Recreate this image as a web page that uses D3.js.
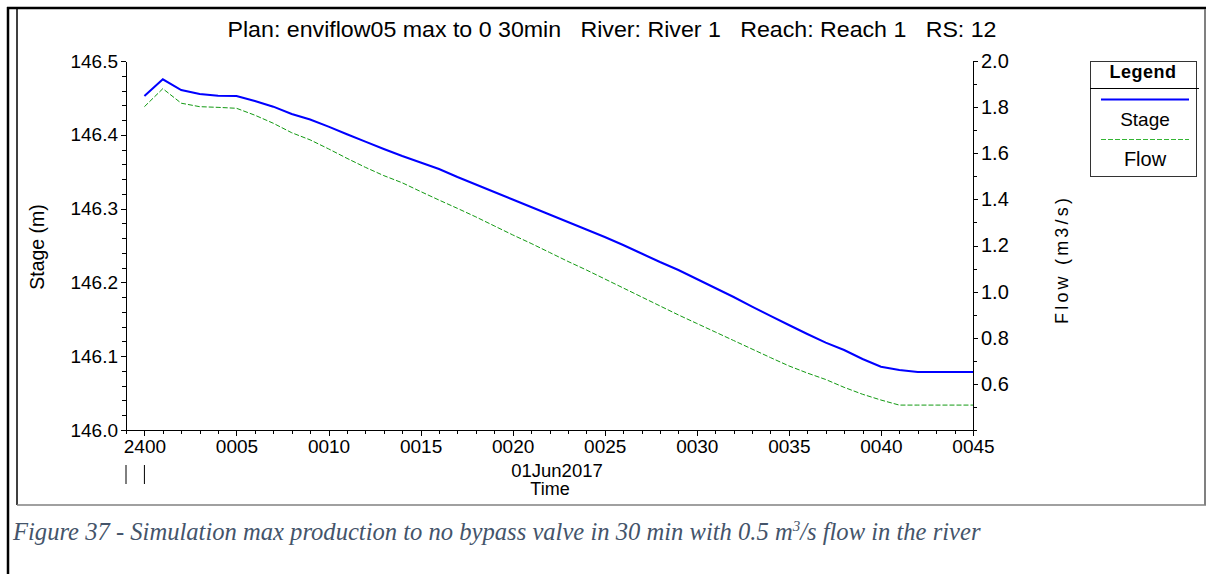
<!DOCTYPE html>
<html>
<head>
<meta charset="utf-8">
<script src="https://cdn.jsdelivr.net/npm/d3@7"></script>
<style>
  body { margin: 0; background: #fff; }
  svg { display: block; font-family: "Liberation Sans", Arial, sans-serif; }
  .axis path, .axis line { stroke: #000; shape-rendering: crispEdges; }
  .axis text { fill: #000; font-size: 19px; }
  .axis.right text { font-size: 20px; }
</style>
</head>
<body>
<div id="chart"></div>
<script>
// time in minutes after 2400 on 01Jun2017
const minutes = [0, 1, 2, 3, 4, 5, 6, 7, 8, 9, 10, 11, 12, 13, 14, 15, 16, 17, 18, 19, 20, 21, 22,
  23, 24, 25, 26, 27, 28, 29, 30, 31, 32, 33, 34, 35, 36, 37, 38, 39, 40, 41, 42, 43, 44, 45];

// Stage (m)
const stage = [146.4526, 146.4752, 146.4607, 146.4553, 146.4530, 146.4526, 146.4458, 146.4381,
  146.4282, 146.4207, 146.4110, 146.4007, 146.3907, 146.3808, 146.3713, 146.3625, 146.3537,
  146.3428, 146.3327, 146.3225, 146.3123, 146.3022, 146.2920, 146.2818, 146.2717, 146.2615,
  146.2507, 146.2392, 146.2276, 146.2168, 146.2046, 146.1924, 146.1802, 146.1673, 146.1545,
  146.1423, 146.1301, 146.1183, 146.1084, 146.0962, 146.0858, 146.0813, 146.0786, 146.0786,
  146.0786, 146.0786];

// Flow (m3/s)
const flow = [1.802, 1.880, 1.817, 1.802, 1.799, 1.795, 1.765, 1.730, 1.689, 1.658, 1.619, 1.578,
  1.539, 1.503, 1.472, 1.434, 1.397, 1.361, 1.324, 1.285, 1.246, 1.209, 1.170, 1.131, 1.094,
  1.055, 1.016, 0.977, 0.938, 0.899, 0.862, 0.825, 0.788, 0.751, 0.714, 0.678, 0.647, 0.619,
  0.585, 0.555, 0.530, 0.508, 0.508, 0.508, 0.508, 0.508];

const xTickMinutes = [0, 5, 10, 15, 20, 25, 30, 35, 40, 45];
const xTickLabels = ["2400", "0005", "0010", "0015", "0020", "0025", "0030", "0035", "0040", "0045"];
const stageTicks = [146.0, 146.1, 146.2, 146.3, 146.4, 146.5];
const flowTicks = [0.6, 0.8, 1.0, 1.2, 1.4, 1.6, 1.8, 2.0];

const title = "Plan: enviflow05 max to 0 30min   River: River 1   Reach: Reach 1   RS: 12";

const width = 1212, height = 574;
const plot = { left: 126, right: 973, top: 61, bottom: 430 };

const svg = d3.select('#chart').append('svg')
  .attr('width', width).attr('height', height);

// page / frame lines
svg.append('line').attr('x1', 7).attr('y1', 8).attr('x2', 1206).attr('y2', 8)
  .attr('stroke', '#000').attr('stroke-width', 2.5);
svg.append('line').attr('x1', 8).attr('y1', 7).attr('x2', 8).attr('y2', height)
  .attr('stroke', '#000').attr('stroke-width', 2.5);
svg.append('line').attr('x1', 17).attr('y1', 9).attr('x2', 17).attr('y2', 505)
  .attr('stroke', '#000').attr('stroke-width', 1.5);
svg.append('line').attr('x1', 17).attr('y1', 505).attr('x2', 1206).attr('y2', 505)
  .attr('stroke', '#808080').attr('stroke-width', 1.5);
svg.append('line').attr('x1', 1205).attr('y1', 9).attr('x2', 1205).attr('y2', 505)
  .attr('stroke', '#808080').attr('stroke-width', 2);

// scales
const x = d3.scaleLinear().domain([-1, 45]).range([plot.left, plot.right]);
const yStage = d3.scaleLinear().domain([146.0, 146.5]).range([plot.bottom, plot.top]);
const yFlow = d3.scaleLinear().domain([0.4, 2.0]).range([plot.bottom, plot.top]);

// minor ticks
const stageMinor = d3.range(0, 26).map(i => 146 + i * 0.02);
const flowMinor = d3.range(4, 21).map(i => i / 10);
const xMinor = d3.range(-1, 46);

svg.append('g').attr('class', 'axis')
  .attr('transform', `translate(${plot.left},0)`)
  .call(d3.axisLeft(yStage).tickValues(stageMinor).tickFormat('').tickSize(4).tickSizeOuter(0));
svg.append('g').attr('class', 'axis')
  .attr('transform', `translate(${plot.left},0)`)
  .call(d3.axisLeft(yStage).tickValues(stageTicks).tickFormat(d3.format('.1f')).tickSize(5).tickSizeOuter(0).tickPadding(3))
  .call(g => g.select('.domain').remove());

svg.append('g').attr('class', 'axis right')
  .attr('transform', `translate(${plot.right},0)`)
  .call(d3.axisRight(yFlow).tickValues(flowMinor).tickFormat('').tickSize(4).tickSizeOuter(0));
svg.append('g').attr('class', 'axis right')
  .attr('transform', `translate(${plot.right},0)`)
  .call(d3.axisRight(yFlow).tickValues(flowTicks).tickFormat(d3.format('.1f')).tickSize(5).tickSizeOuter(0).tickPadding(3))
  .call(g => g.select('.domain').remove());

svg.append('g').attr('class', 'axis')
  .attr('transform', `translate(0,${plot.bottom})`)
  .call(d3.axisBottom(x).tickValues(xMinor).tickFormat('').tickSize(4).tickSizeOuter(0));
svg.append('g').attr('class', 'axis')
  .attr('transform', `translate(0,${plot.bottom})`)
  .call(d3.axisBottom(x).tickValues(xTickMinutes).tickFormat((d, i) => xTickLabels[i]).tickSize(6).tickSizeOuter(0).tickPadding(4))
  .call(g => g.select('.domain').remove());

// date separator marks under the x axis
svg.selectAll('.datesep').data([-1, 0]).enter().append('line')
  .attr('x1', d => x(d)).attr('x2', d => x(d))
  .attr('y1', 465).attr('y2', 484)
  .attr('stroke', '#000').attr('stroke-width', 1);

// axis titles
svg.append('text').attr('x', 557).attr('y', 477).attr('text-anchor', 'middle')
  .style('font-size', '18.5px').text('01Jun2017');
svg.append('text').attr('x', 550).attr('y', 495).attr('text-anchor', 'middle')
  .style('font-size', '18px').text('Time');
svg.append('text').attr('transform', 'translate(44,247) rotate(-90)').attr('text-anchor', 'middle')
  .style('font-size', '19.5px').text('Stage (m)');
svg.append('text').attr('transform', 'translate(1068,261) rotate(-90)').attr('text-anchor', 'middle')
  .style('font-size', '18px').attr('textLength', 126).attr('lengthAdjust', 'spacing').text('Flow (m3/s)');

// title
svg.append('text').attr('x', 612).attr('y', 37).attr('text-anchor', 'middle')
  .style('font-size', '22px').style('white-space', 'pre')
  .attr('textLength', 769).attr('lengthAdjust', 'spacingAndGlyphs').text(title);

// lines
const stageLine = d3.line().x((d, i) => x(minutes[i])).y(d => yStage(d));
const flowLine = d3.line().x((d, i) => x(minutes[i])).y(d => yFlow(d));

svg.append('path').datum(flow)
  .attr('d', flowLine).attr('fill', 'none')
  .attr('stroke', '#129a12').attr('stroke-width', 1).attr('stroke-dasharray', '5,2');
svg.append('path').datum(stage)
  .attr('d', stageLine).attr('fill', 'none')
  .attr('stroke', '#0000ff').attr('stroke-width', 2);

// legend
const lg = svg.append('g');
lg.append('rect').attr('x', 1090.5).attr('y', 61.5).attr('width', 106).attr('height', 115)
  .attr('fill', '#fff').attr('stroke', '#333').attr('stroke-width', 1);
lg.append('line').attr('x1', 1090).attr('x2', 1199).attr('y1', 88.5).attr('y2', 88.5)
  .attr('stroke', '#000').attr('stroke-width', 1);
lg.append('text').attr('x', 1143).attr('y', 78).attr('text-anchor', 'middle')
  .style('font-size', '18px').style('font-weight', 'bold').style('letter-spacing', '0.5px').text('Legend');
lg.append('line').attr('x1', 1101).attr('x2', 1189).attr('y1', 99.5).attr('y2', 99.5)
  .attr('stroke', '#0000ff').attr('stroke-width', 2);
lg.append('text').attr('x', 1145).attr('y', 126).attr('text-anchor', 'middle')
  .style('font-size', '19px').text('Stage');
lg.append('line').attr('x1', 1101).attr('x2', 1189).attr('y1', 139.5).attr('y2', 139.5)
  .attr('stroke', '#33b533').attr('stroke-width', 1).attr('stroke-dasharray', '5,2');
lg.append('text').attr('x', 1145).attr('y', 166).attr('text-anchor', 'middle')
  .style('font-size', '20px').text('Flow');

// caption
const cap = svg.append('text').attr('x', 13).attr('y', 540)
  .style('font-family', '"Liberation Serif", "Times New Roman", serif')
  .style('font-style', 'italic').style('font-size', '24.6px').attr('fill', '#44546a');
cap.append('tspan').text('Figure 37 - Simulation max production to no bypass valve in 30 min with 0.5 m');
cap.append('tspan').attr('dy', -9).style('font-size', '15px').text('3');
cap.append('tspan').attr('dy', 9).text('/s flow in the river');
</script>
</body>
</html>
